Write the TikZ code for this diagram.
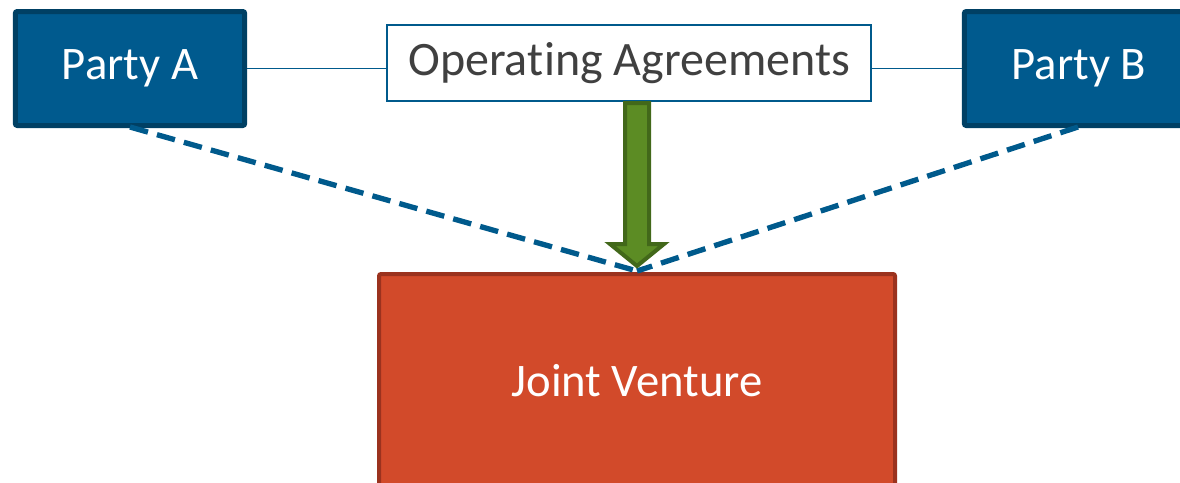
\documentclass[tikz,border=0pt]{standalone}
\usepackage{fontspec}
\setmainfont{Carlito}[Ligatures={NoCommon}]
\definecolor{partyfill}{RGB}{0,90,142}
\definecolor{partyedge}{RGB}{0,64,100}
\definecolor{linkblue}{RGB}{0,90,140}
\definecolor{oatext}{RGB}{64,64,64}
\definecolor{jvfill}{RGB}{210,74,42}
\definecolor{jvedge}{RGB}{155,50,30}
\definecolor{arrfill}{RGB}{92,140,36}
\definecolor{arredge}{RGB}{66,104,26}
\tikzset{
  partybox/.style={draw=partyedge, fill=partyfill, line width=3.75pt, rounded corners=1.5pt,
    minimum width=172pt, minimum height=85.5pt, text=white, font=\fontsize{35}{40}\selectfont, inner sep=0pt},
  oabox/.style={draw=linkblue, fill=white, line width=1.2pt,
    minimum width=363.4pt, minimum height=57.4pt, text=oatext, font=\fontsize{36}{40}\selectfont, inner sep=0pt},
  jvbox/.style={draw=jvedge, fill=jvfill, line width=3pt, rounded corners=1.5pt,
    minimum width=387pt, minimum height=160.5pt, text=white, font=\fontsize{35}{40}\selectfont, inner sep=0pt},
  link/.style={draw=linkblue, line width=1.3pt},
  dashlink/.style={draw=linkblue, line width=4pt, dash pattern=on 14pt off 7pt},
  greenarrow/.style={draw=arredge, fill=arrfill, line width=3pt, line join=miter},
}
\begin{document}
\begin{tikzpicture}[x=0.75pt,y=-0.75pt]
\useasboundingbox (0,0) rectangle (1180,482);
\begin{scope}
\clip (0,0) rectangle (1180,482);
\node[partybox] (A) at (130,68.5) {Party A};
\node[partybox] (B) at (1079,68.5) {Party B};
\node[oabox] (OA) at (629,63) {Opera\mbox{t}ing Agreements};
\node[jvbox] (JV) at (637,381) {Joint Venture};
\coordinate (meet) at (637,271);
\coordinate (Abot) at (130,127);
\coordinate (Bbot) at (1078,127);
\draw[link] (A.east) -- (A.east -| OA.west);
\draw[link] (B.west) -- (B.west -| OA.east);
\draw[dashlink] (Abot) -- (meet);
\draw[dashlink] (Bbot) -- (meet);
\draw[greenarrow] (625,103) -- (649,103) -- (649,244) -- (664,244) -- (637,266) -- (610,244) -- (625,244) -- cycle;
\end{scope}
\end{tikzpicture}
\end{document}
